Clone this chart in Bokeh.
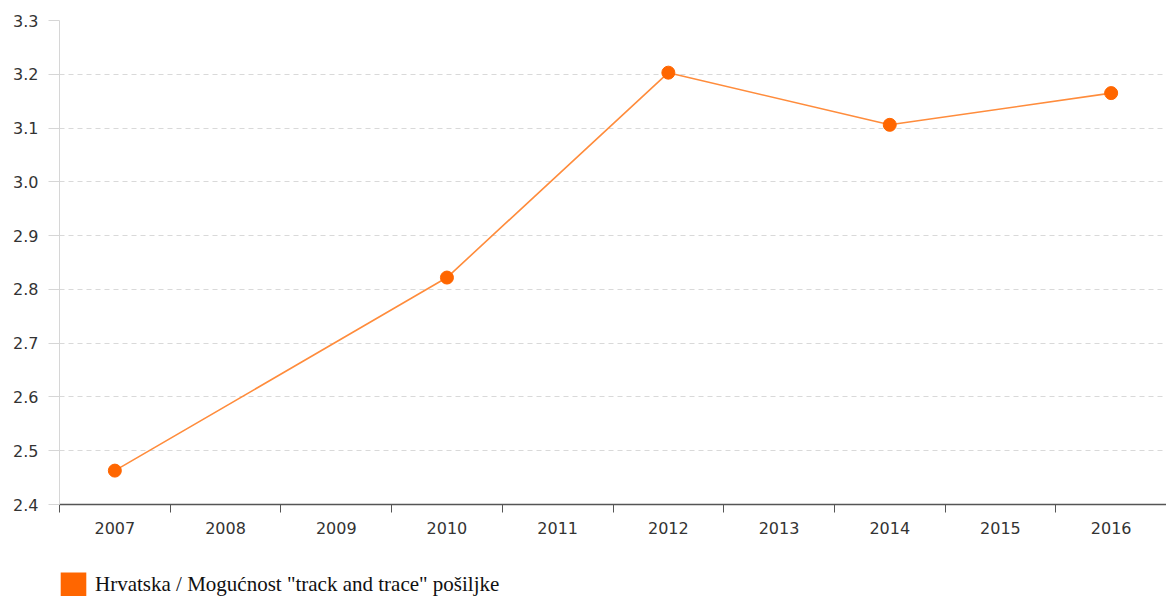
from bokeh.plotting import figure
from bokeh.layouts import column
from bokeh.models import (Range1d, FixedTicker, NumeralTickFormatter, Legend, LegendItem,
                          ColumnDataSource)
from bokeh.embed import file_html
from bokeh.resources import INLINE

# ---- data ----
year_labels = ["2007", "2008", "2009", "2010", "2011", "2012", "2013", "2014", "2015", "2016"]
data_years = [2007, 2010, 2012, 2014, 2016]
values = [2.463, 2.822, 3.203, 3.106, 3.165]
y_ticks = [2.4, 2.5, 2.6, 2.7, 2.8, 2.9, 3.0, 3.1, 3.2, 3.3]
series_name = 'Hrvatska / Mogućnost "track and trace" pošiljke'

years = [int(y) for y in year_labels]
boundaries = [y - 0.5 for y in years] + [years[-1] + 0.5]

ORANGE = "#FF6600"
LINE = "#FF8C3C"

xr = Range1d(years[0] - 0.5, years[-1] + 0.5)
yr = Range1d(y_ticks[0], y_ticks[-1])

p = figure(width=1166, height=560, output_backend="svg", toolbar_location=None,
           x_range=xr, y_range=yr,
           min_border_left=59, min_border_top=20, min_border_right=0, min_border_bottom=56)
p.outline_line_color = None
p.background_fill_color = "white"
p.border_fill_color = "white"

src = ColumnDataSource(dict(x=data_years, y=values))
p.line("x", "y", source=src, line_color=LINE, line_width=1.6)
p.scatter("x", "y", source=src, size=13, fill_color=ORANGE, line_color=ORANGE)

# grid
p.xgrid.visible = False
p.ygrid.ticker = FixedTicker(ticks=y_ticks)
p.ygrid.grid_line_color = "#d9d9d9"
p.ygrid.grid_line_dash = "5 4"
p.ygrid.grid_line_width = 1

# y axis
p.yaxis.ticker = FixedTicker(ticks=y_ticks)
p.yaxis.formatter = NumeralTickFormatter(format="0.0")
p.yaxis.axis_line_color = "#d6d6d6"
p.yaxis.major_tick_line_color = "#d6d6d6"
p.yaxis.major_tick_out = 11
p.yaxis.major_tick_in = 0
p.yaxis.minor_tick_line_color = None
p.yaxis.major_label_standoff = 10
p.yaxis.major_label_text_font = "DejaVu Sans"
p.yaxis.major_label_text_font_size = "16px"
p.yaxis.major_label_text_color = "#333333"

# x axis
p.xaxis.ticker = FixedTicker(ticks=years, minor_ticks=boundaries)
p.xaxis.major_label_overrides = {y: lab for y, lab in zip(years, year_labels)}
p.xaxis.axis_line_color = "#555555"
p.xaxis.axis_line_width = 1.6
p.xaxis.major_tick_line_color = None
p.xaxis.major_tick_out = 0
p.xaxis.major_tick_in = 0
p.xaxis.minor_tick_line_color = "#555555"
p.xaxis.minor_tick_out = 8
p.xaxis.minor_tick_in = 0
p.xaxis.major_label_standoff = 9
p.xaxis.major_label_text_font = "DejaVu Sans"
p.xaxis.major_label_text_font_size = "16px"
p.xaxis.major_label_text_color = "#333333"

# legend strip below the chart (swatch from a hidden bar renderer of the same series)
pl = figure(width=1166, height=36, output_backend="svg", toolbar_location=None,
            x_range=xr, y_range=yr, x_axis_location=None, y_axis_location=None,
            min_border=0)
pl.outline_line_color = None
pl.xgrid.visible = False
pl.ygrid.visible = False
proxy = pl.vbar(x="x", top="y", bottom=y_ticks[0], width=0.5, source=src,
                fill_color=ORANGE, line_color=None, visible=False)
legend = Legend(items=[LegendItem(label=series_name, renderers=[proxy])],
                location=(-2, -3), orientation="horizontal", click_policy="none",
                glyph_width=32, glyph_height=30, label_standoff=6,
                label_text_font="Liberation Serif", label_text_font_size="21px",
                label_text_color="#111111", label_height=22,
                padding=0, margin=0, spacing=0,
                border_line_color=None, background_fill_alpha=0)
pl.add_layout(legend, "center")

layout = column(p, pl, spacing=0)
open("out.html", "w").write(file_html(layout, INLINE))
